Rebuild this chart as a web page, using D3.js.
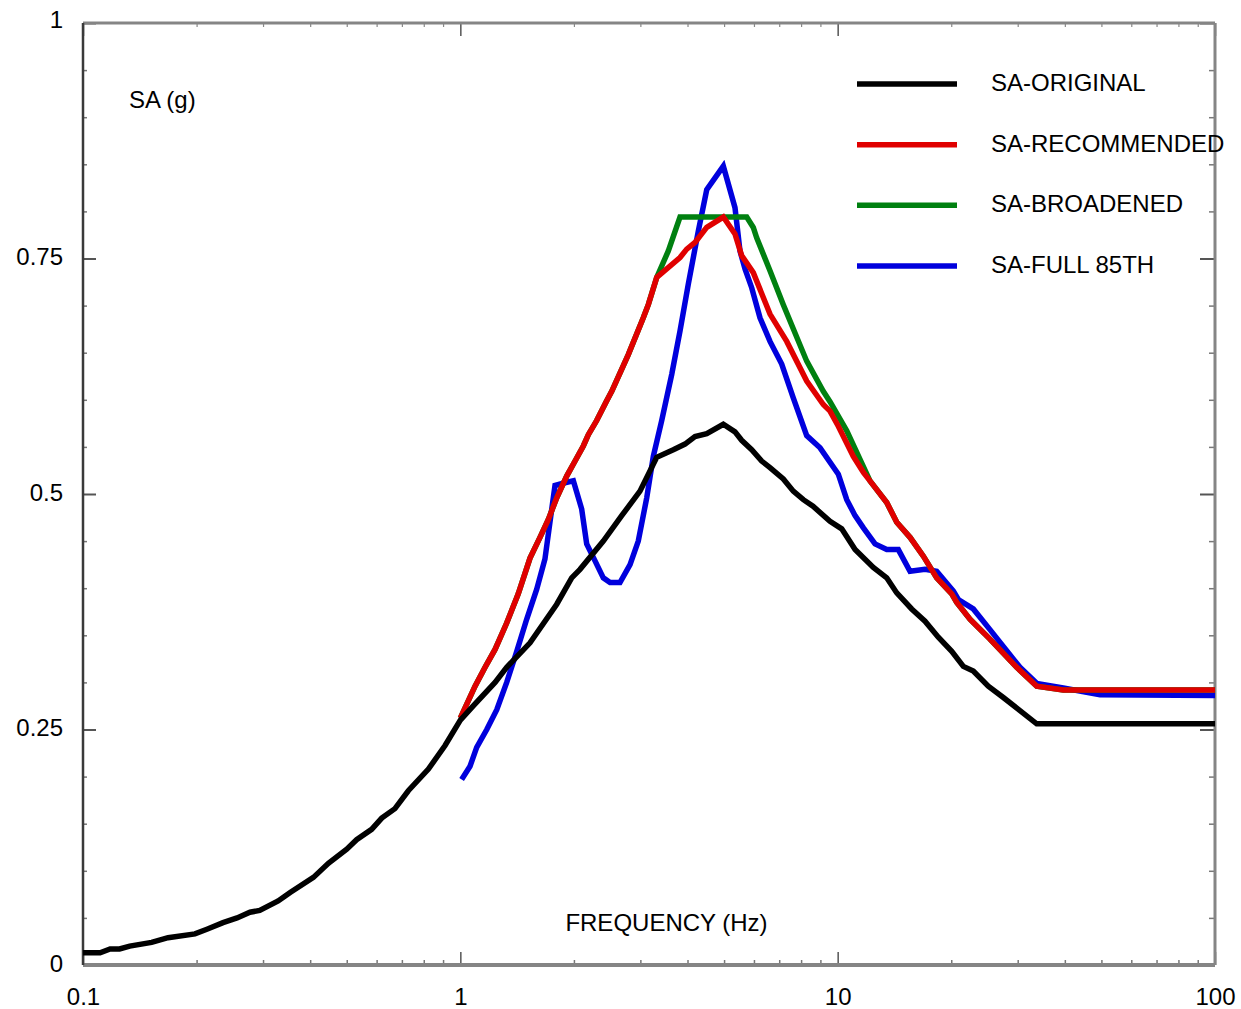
<!DOCTYPE html>
<html>
<head>
<meta charset="utf-8">
<script src="https://cdn.jsdelivr.net/npm/d3@7"></script>
<style>
  html, body { margin: 0; padding: 0; background: #fff; }
  svg { display: block; }
  text { font-family: "Liberation Sans", Arial, Helvetica, sans-serif; fill: #000; }
</style>
</head>
<body>
<svg id="chart" width="1241" height="1009"></svg>
<script>
// Spectral acceleration curves (g) against frequency (Hz)
const origFreq = [0.1, 0.111, 0.118, 0.125, 0.133, 0.152, 0.168, 0.198, 0.213, 0.235, 0.256, 0.277, 0.294, 0.329, 0.354, 0.408, 0.447, 0.5, 0.531, 0.582, 0.619, 0.671, 0.728, 0.823, 0.911, 1.0, 1.082, 1.236, 1.327, 1.53, 1.801, 1.973, 2.076, 2.393, 2.677, 2.993, 3.315, 3.668, 3.939, 4.187, 4.498, 4.977, 5.344, 5.567, 5.918, 6.29, 6.617, 7.177, 7.627, 8.11, 8.603, 9.544, 10.25, 11.12, 12.43, 13.49, 14.34, 15.71, 17.04, 18.48, 20.06, 21.53, 22.88, 25.07, 27.48, 30.42, 33.69, 100];
const origSA = [0.013, 0.013, 0.017, 0.017, 0.020, 0.024, 0.029, 0.033, 0.038, 0.045, 0.050, 0.056, 0.058, 0.068, 0.077, 0.093, 0.108, 0.123, 0.133, 0.144, 0.156, 0.166, 0.185, 0.208, 0.233, 0.260, 0.275, 0.300, 0.316, 0.342, 0.383, 0.411, 0.420, 0.450, 0.477, 0.503, 0.539, 0.547, 0.553, 0.561, 0.564, 0.574, 0.566, 0.557, 0.547, 0.535, 0.528, 0.516, 0.503, 0.494, 0.487, 0.471, 0.463, 0.441, 0.422, 0.411, 0.395, 0.378, 0.365, 0.348, 0.333, 0.317, 0.312, 0.296, 0.284, 0.270, 0.256, 0.256];

const recFreq = [1.0, 1.094, 1.163, 1.236, 1.327, 1.424, 1.53, 1.626, 1.711, 1.801, 1.914, 2.014, 2.118, 2.184, 2.298, 2.443, 2.519, 2.787, 3.054, 3.149, 3.315, 3.821, 3.981, 4.187, 4.498, 4.977, 5.344, 5.567, 5.976, 6.101, 6.617, 7.328, 8.279, 9.16, 9.544, 10.04, 11.0, 11.7, 12.56, 13.49, 14.34, 15.55, 16.87, 18.3, 20.06, 20.68, 22.42, 25.33, 29.82, 33.69, 39.62, 100];
const recSA = [0.262, 0.296, 0.316, 0.335, 0.363, 0.394, 0.432, 0.454, 0.473, 0.496, 0.519, 0.535, 0.551, 0.563, 0.578, 0.599, 0.609, 0.648, 0.687, 0.701, 0.730, 0.751, 0.760, 0.767, 0.783, 0.794, 0.776, 0.753, 0.735, 0.726, 0.691, 0.662, 0.620, 0.595, 0.588, 0.572, 0.540, 0.523, 0.507, 0.491, 0.470, 0.454, 0.434, 0.411, 0.394, 0.385, 0.367, 0.346, 0.316, 0.296, 0.292, 0.292];

const broadFreq = [1.0, 1.094, 1.163, 1.236, 1.327, 1.424, 1.53, 1.626, 1.711, 1.801, 1.914, 2.014, 2.118, 2.184, 2.298, 2.443, 2.519, 2.787, 3.054, 3.149, 3.315, 3.558, 3.821, 5.741, 5.976, 6.101, 6.617, 7.177, 8.279, 9.16, 9.544, 10.57, 12.18, 12.56, 13.49, 14.34, 15.55, 16.87, 18.3, 20.06, 20.68, 22.42, 25.33, 29.82, 33.69, 39.62, 100];
const broadSA = [0.262, 0.296, 0.316, 0.335, 0.363, 0.394, 0.432, 0.454, 0.473, 0.496, 0.519, 0.535, 0.551, 0.563, 0.578, 0.599, 0.609, 0.648, 0.687, 0.701, 0.730, 0.758, 0.794, 0.794, 0.783, 0.772, 0.737, 0.701, 0.641, 0.609, 0.598, 0.567, 0.514, 0.507, 0.491, 0.470, 0.454, 0.434, 0.411, 0.394, 0.385, 0.367, 0.346, 0.316, 0.296, 0.292, 0.292];

const fullFreq = [1.008, 1.061, 1.105, 1.175, 1.249, 1.327, 1.411, 1.499, 1.594, 1.676, 1.729, 1.782, 1.894, 1.993, 2.097, 2.162, 2.275, 2.393, 2.493, 2.649, 2.817, 2.962, 3.119, 3.247, 3.417, 3.633, 3.821, 4.02, 4.272, 4.498, 4.977, 5.344, 5.51, 5.681, 5.918, 6.225, 6.617, 7.107, 7.627, 8.279, 8.981, 10.04, 10.57, 11.12, 11.7, 12.56, 13.49, 14.48, 15.55, 17.04, 18.3, 20.26, 20.88, 22.88, 25.33, 30.42, 33.69, 39.62, 49.58, 100];
const fullSA = [0.197, 0.211, 0.231, 0.250, 0.271, 0.300, 0.333, 0.367, 0.399, 0.431, 0.471, 0.509, 0.512, 0.514, 0.484, 0.447, 0.429, 0.411, 0.406, 0.406, 0.425, 0.450, 0.496, 0.540, 0.578, 0.627, 0.673, 0.723, 0.779, 0.823, 0.848, 0.804, 0.758, 0.739, 0.719, 0.687, 0.662, 0.638, 0.602, 0.562, 0.549, 0.521, 0.494, 0.477, 0.464, 0.447, 0.441, 0.441, 0.418, 0.420, 0.418, 0.397, 0.388, 0.378, 0.356, 0.316, 0.299, 0.294, 0.287, 0.286];

const seriesNames = ["SA-ORIGINAL", "SA-RECOMMENDED", "SA-BROADENED", "SA-FULL 85TH"];
const seriesColors = ["#000000", "#e00000", "#008010", "#0000dd"];

const xTickValues = [0.1, 1, 10, 100];
const xTickLabels = ["0.1", "1", "10", "100"];
const yTickValues = [0, 0.25, 0.5, 0.75, 1];
const yTickLabels = ["0", "0.25", "0.5", "0.75", "1"];

const xTitle = "FREQUENCY (Hz)";
const yTitle = "SA (g)";

// ---- layout ----
const plotLeft = 83, plotRight = 1215, plotTop = 23, plotBottom = 965;
const fontSize = 24;
const svg = d3.select("#chart");
svg.append("rect").attr("width", 1241).attr("height", 1009).attr("fill", "#fff");

const x = d3.scaleLog().domain([0.1, 100]).range([plotLeft, plotRight]);
const y = d3.scaleLinear().domain([0, 1]).range([plotBottom, plotTop]);

const series = [
  { name: seriesNames[0], color: seriesColors[0], f: origFreq, v: origSA },
  { name: seriesNames[1], color: seriesColors[1], f: recFreq, v: recSA },
  { name: seriesNames[2], color: seriesColors[2], f: broadFreq, v: broadSA },
  { name: seriesNames[3], color: seriesColors[3], f: fullFreq, v: fullSA }
];

// minor tick positions: 2..9 within each decade, every 0.05 g
const xMinor = [];
[0.1, 1, 10].forEach(d => { for (let k = 2; k <= 9; k++) xMinor.push(+(k * d).toPrecision(3)); });
const yMinor = d3.range(1, 20).map(i => +(i * 0.05).toFixed(2))
  .filter(v => Math.abs(v / 0.25 - Math.round(v / 0.25)) > 1e-6);

function styleTicks(g, color, width) {
  g.select(".domain").remove();
  g.selectAll(".tick line").attr("stroke", color).attr("stroke-width", width);
  g.selectAll(".tick text").remove();
}

// inward ticks on all four sides
svg.append("g").attr("transform", `translate(0,${plotBottom})`)
  .call(d3.axisTop(x).tickValues(xMinor).tickSize(5).tickFormat(""))
  .call(g => styleTicks(g, "#777", 1.5));
svg.append("g").attr("transform", `translate(0,${plotBottom})`)
  .call(d3.axisTop(x).tickValues(xTickValues).tickSize(13).tickFormat(""))
  .call(g => styleTicks(g, "#555", 1.5));
svg.append("g").attr("transform", `translate(0,${plotTop})`)
  .call(d3.axisBottom(x).tickValues(xMinor).tickSize(4).tickFormat(""))
  .call(g => styleTicks(g, "#888", 1.2));
svg.append("g").attr("transform", `translate(0,${plotTop})`)
  .call(d3.axisBottom(x).tickValues(xTickValues).tickSize(13).tickFormat(""))
  .call(g => styleTicks(g, "#555", 1.5));
svg.append("g").attr("transform", `translate(${plotLeft},0)`)
  .call(d3.axisRight(y).tickValues(yMinor).tickSize(4).tickFormat(""))
  .call(g => styleTicks(g, "#777", 1.5));
svg.append("g").attr("transform", `translate(${plotLeft},0)`)
  .call(d3.axisRight(y).tickValues(yTickValues).tickSize(13).tickFormat(""))
  .call(g => styleTicks(g, "#555", 2));
svg.append("g").attr("transform", `translate(${plotRight},0)`)
  .call(d3.axisLeft(y).tickValues(yMinor).tickSize(6).tickFormat(""))
  .call(g => styleTicks(g, "#777", 1.5));
svg.append("g").attr("transform", `translate(${plotRight},0)`)
  .call(d3.axisLeft(y).tickValues(yTickValues).tickSize(15).tickFormat(""))
  .call(g => styleTicks(g, "#555", 2));

// frame: grey top, bottom and right edges, darker left edge
const frame = svg.append("g");
frame.append("line").attr("x1", plotLeft).attr("x2", plotRight).attr("y1", plotTop).attr("y2", plotTop)
  .attr("stroke", "#858585").attr("stroke-width", 3);
frame.append("line").attr("x1", plotLeft).attr("x2", plotRight).attr("y1", plotBottom).attr("y2", plotBottom)
  .attr("stroke", "#858585").attr("stroke-width", 4);
frame.append("line").attr("x1", plotRight).attr("x2", plotRight).attr("y1", plotTop).attr("y2", plotBottom)
  .attr("stroke", "#858585").attr("stroke-width", 3);
frame.append("line").attr("x1", plotLeft).attr("x2", plotLeft).attr("y1", plotTop).attr("y2", plotBottom)
  .attr("stroke", "#3a3a3a").attr("stroke-width", 2.5);

// tick labels
const xAxis = svg.append("g").attr("transform", `translate(0,${plotBottom})`)
  .call(d3.axisBottom(x).tickValues(xTickValues).tickSize(0)
    .tickFormat((d, i) => xTickLabels[i]));
xAxis.select(".domain").remove();
xAxis.selectAll(".tick text").attr("y", 40).attr("dy", null)
  .attr("font-size", fontSize).attr("font-family", "Liberation Sans, Arial, sans-serif").attr("fill", "#000");

const yAxis = svg.append("g").attr("transform", `translate(${plotLeft},0)`)
  .call(d3.axisLeft(y).tickValues(yTickValues).tickSize(0)
    .tickFormat((d, i) => yTickLabels[i]));
yAxis.select(".domain").remove();
yAxis.selectAll(".tick text").attr("x", -20).attr("dy", null).attr("y", d => d === 1 ? 4 : 6)
  .attr("font-size", fontSize).attr("font-family", "Liberation Sans, Arial, sans-serif").attr("fill", "#000");

// titles inside the plot
svg.append("text").attr("x", 666.5).attr("y", 931).attr("text-anchor", "middle")
  .attr("font-size", fontSize).text(xTitle);
svg.append("text").attr("x", 129).attr("y", 108)
  .attr("font-size", fontSize).text(yTitle);

// curves
const line = d3.line().x(d => x(d[0])).y(d => y(d[1]));
const drawOrder = [3, 2, 1, 0];
svg.append("g").selectAll("path")
  .data(drawOrder.map(i => series[i]))
  .join("path")
  .attr("d", s => line(s.f.map((f, i) => [f, s.v[i]])))
  .attr("fill", "none")
  .attr("stroke", s => s.color)
  .attr("stroke-width", 5.5)
  .attr("stroke-linejoin", "miter")
  .attr("stroke-miterlimit", 4);

// legend
const legend = svg.append("g");
const legendY = d3.scaleLinear().domain([0, 3]).range([84, 266]);
series.forEach((s, i) => {
  const ly = legendY(i);
  legend.append("line").attr("x1", 857).attr("x2", 957).attr("y1", ly).attr("y2", ly)
    .attr("stroke", s.color).attr("stroke-width", 5.5);
  legend.append("text").attr("x", 991).attr("y", ly + 7).attr("font-size", fontSize).text(s.name);
});
</script>
</body>
</html>
